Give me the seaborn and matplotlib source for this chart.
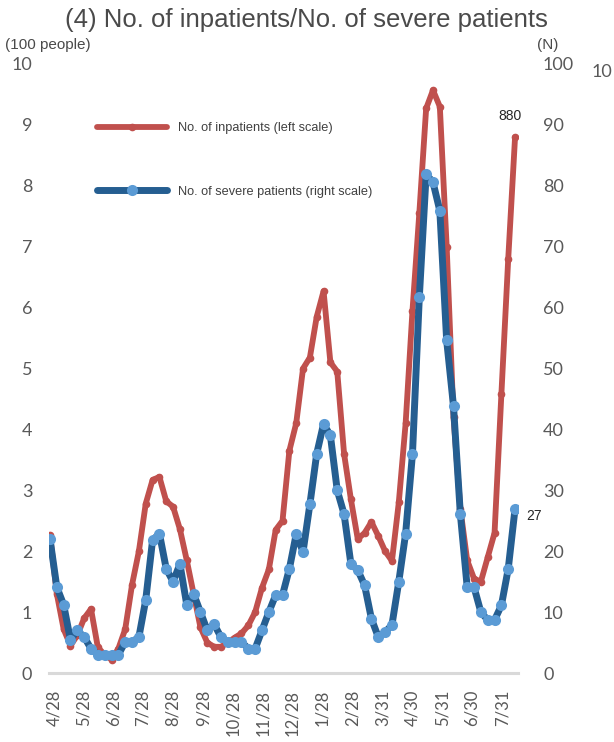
import matplotlib
matplotlib.use("Agg")
import matplotlib.pyplot as plt
import seaborn as sns
import pandas as pd

sns.set_theme(style="white")
plt.rcParams['font.family'] = ['Liberation Sans', 'DejaVu Sans']

# ---- data ----
week_dates = pd.date_range("2020-04-24", periods=69, freq="7D")
# No. of inpatients, in 100 people (left scale)
inpatients = [2.27, 1.30, 0.72, 0.45, 0.62, 0.90, 1.05, 0.42, 0.30, 0.22,
              0.40, 0.72, 1.45, 2.00, 2.78, 3.17, 3.22, 2.82, 2.73, 2.36,
              1.85, 1.30, 0.75, 0.50, 0.43, 0.43, 0.50, 0.58, 0.65, 0.78,
              1.00, 1.40, 1.70, 2.35, 2.50, 3.65, 4.10, 5.00, 5.18, 5.85,
              6.27, 5.10, 4.95, 3.60, 2.85, 2.20, 2.30, 2.48, 2.25, 2.00,
              1.84, 2.80, 4.10, 5.95, 7.55, 9.27, 9.57, 9.30, 7.00, 4.20,
              2.70, 1.85, 1.55, 1.50, 1.90, 2.30, 4.58, 6.80, 8.80]
# No. of severe patients (right scale)
severe = [22.0, 14.1, 11.2, 5.4, 7.0, 5.9, 4.0, 3.0, 3.0, 3.0,
          3.0, 5.1, 5.1, 5.9, 12.0, 21.8, 22.9, 17.1, 15.0, 17.9,
          11.2, 13.0, 10.0, 7.0, 8.0, 5.9, 5.1, 5.1, 5.1, 4.0,
          4.0, 7.0, 10.0, 12.8, 12.8, 17.1, 22.8, 19.9, 27.7, 36.0,
          40.9, 39.0, 30.0, 26.1, 17.9, 16.9, 14.4, 8.9, 5.9, 6.7,
          7.9, 15.0, 22.9, 36.0, 61.7, 81.9, 80.6, 75.9, 54.6, 43.8,
          26.1, 14.1, 14.1, 10.0, 8.7, 8.7, 11.1, 17.1, 27.0]
tick_dates = pd.to_datetime(["2020-04-28", "2020-05-28", "2020-06-28", "2020-07-28",
                             "2020-08-28", "2020-09-28", "2020-10-28", "2020-11-28",
                             "2020-12-28", "2021-01-28", "2021-02-28", "2021-03-31",
                             "2021-04-30", "2021-05-31", "2021-06-30", "2021-07-31"])
tick_labels = ["4/28", "5/28", "6/28", "7/28", "8/28", "9/28", "10/28", "11/28",
               "12/28", "1/28", "2/28", "3/31", "4/30", "5/31", "6/30", "7/31"]
left_ticks = [0, 1, 2, 3, 4, 5, 6, 7, 8, 9, 10]
right_ticks = [0, 10, 20, 30, 40, 50, 60, 70, 80, 90, 100]
series_names = ["No. of inpatients (left scale)", "No. of severe patients (right scale)"]

df = pd.DataFrame({"date": week_dates, "inpatients": inpatients, "severe": severe})

RED = "#C0504D"
BLUE_LINE = "#255E91"
BLUE_MARK = "#5B9BD5"
GRAY = "#595959"
TICKFONT = ['Lato', 'DejaVu Sans']

W, H = 614, 742
fig = plt.figure(figsize=(W / 100, H / 100), dpi=100)
ax = fig.add_axes([49 / W, 1 - 673 / H, (518 - 49) / W, (673 - 64) / H])
ax2 = ax.twinx()

sns.lineplot(data=df, x="date", y="inpatients", ax=ax, color=RED, linewidth=4.2,
             marker="o", markersize=5.5, markeredgewidth=0, legend=False)
sns.lineplot(data=df, x="date", y="severe", ax=ax2, color=BLUE_LINE, linewidth=5.0,
             marker="o", markersize=8, markerfacecolor=BLUE_MARK, markeredgewidth=0,
             legend=False)

ax.set_xlim(week_dates[0] - pd.Timedelta(days=1), week_dates[-1] + pd.Timedelta(days=3))
ax.set_ylim(0, 10)
ax2.set_ylim(0, 100)
ax.set_xlabel("")
ax.set_ylabel("")
ax2.set_ylabel("")

ax.set_yticks(left_ticks)
ax.set_yticklabels([str(t) for t in left_ticks], family=TICKFONT, fontsize=13, color=GRAY)
ax2.set_yticks(right_ticks)
ax2.set_yticklabels([str(t) for t in right_ticks], family=TICKFONT, fontsize=13, color=GRAY)
ax.set_xticks(tick_dates)
ax.set_xticklabels(tick_labels, rotation=90, family=TICKFONT, fontsize=12, color=GRAY)
ax.tick_params(axis="y", length=0, pad=12)
ax2.tick_params(axis="y", length=0, pad=18)
ax.tick_params(axis="x", length=0, pad=12)

for a in (ax, ax2):
    for s in ("top", "left", "right", "bottom"):
        a.spines[s].set_visible(False)
    a.grid(False)
ax.spines["bottom"].set_visible(True)
ax.spines["bottom"].set_color("#D9D9D9")
ax.spines["bottom"].set_linewidth(2.2)

# legend
h1 = ax.lines[0]
h2 = ax2.lines[0]
leg = ax2.legend([h1, h2], series_names, loc="upper left",
                 bbox_to_anchor=(97 / W, 1 - 122 / H), bbox_transform=fig.transFigure,
                 frameon=False, fontsize=9.2, handlelength=5.5, handletextpad=0.85,
                 labelspacing=4.05, borderpad=0, borderaxespad=0, numpoints=1)
for t in leg.get_texts():
    t.set_color("#404040")

# end labels
ax.annotate("880", (week_dates[-1], inpatients[-1]), xytext=(-4, 10),
            textcoords="offset points", ha="center", va="bottom",
            fontsize=10, color="#262626")
ax2.annotate("27", (week_dates[-1], severe[-1]), xytext=(8, -5),
             textcoords="offset points", ha="left", va="center",
             fontsize=10, color="#262626")

# titles / units
fig.text(306 / W, 1 - 20 / H, "(4) No. of inpatients/No. of severe patients",
         ha="center", va="center", fontsize=18.5, color="#4a4a4a")
fig.text(5 / W, 1 - 45 / H, "(100 people)", ha="left", va="center", fontsize=11, color="#4a4a4a")
fig.text(548 / W, 1 - 45 / H, "(N)", ha="center", va="center", fontsize=11, color="#4a4a4a")
fig.text(612 / W, 1 - 72 / H, "10", ha="right", va="center", family=TICKFONT,
         fontsize=13, color=GRAY)

fig.savefig("out.png", dpi=100)
